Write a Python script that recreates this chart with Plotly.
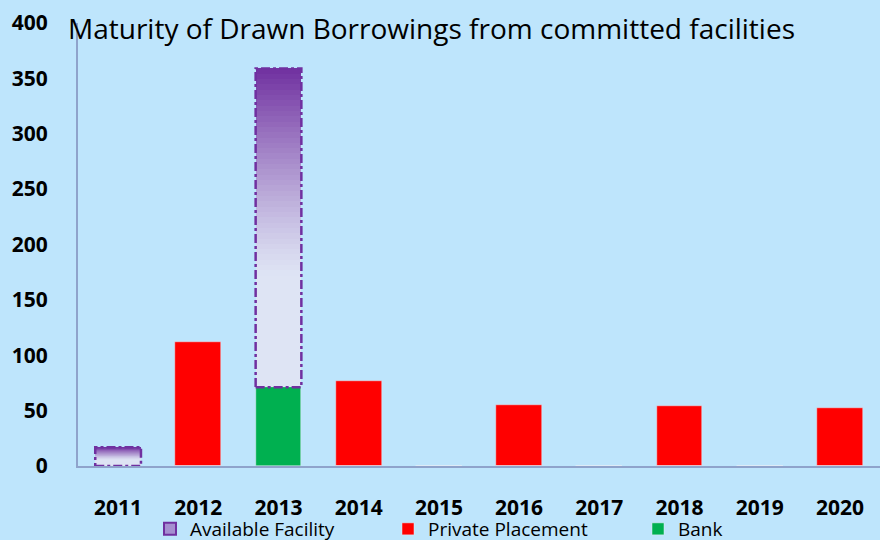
import plotly.graph_objects as go

years = [2011, 2012, 2013, 2014, 2015, 2016, 2017, 2018, 2019, 2020]
private_placement = [0, 112, 0, 77, 0, 55, 0, 54, 0, 52]
bank = [0, 0, 71, 0, 0, 0, 0, 0, 0, 0]
available = [17, 0, 288, 0, 0, 0, 0, 0, 0, 0]
y_ticks = [0, 50, 100, 150, 200, 250, 300, 350, 400]

BG = "#bee5fc"
PURPLE = "#7030a0"
LIGHT = (222, 228, 244)
DARK = (112, 48, 160)
BAR_W = 0.57
N_SLICES = 60
FONT = "Open Sans"

fig = go.Figure()

fig.add_trace(go.Bar(x=years, y=private_placement, width=BAR_W, marker_color="#ff0000",
                     name="Private Placement", showlegend=False))
fig.add_trace(go.Bar(x=years, y=bank, width=BAR_W, marker_color="#00b050",
                     name="Bank", showlegend=False))

gx, gy, gb, gc = [], [], [], []
for yr, b, a in zip(years, bank, available):
    if a <= 0:
        continue
    h = a / N_SLICES
    for k in range(N_SLICES):
        f = (k + 0.5) / N_SLICES
        t = min(max((f - 0.35) / 0.65, 0), 1) ** 1.2
        c = tuple(round(LIGHT[i] + (DARK[i] - LIGHT[i]) * t) for i in range(3))
        gx.append(yr)
        gy.append(h * 1.02)
        gb.append(b + k * h)
        gc.append("rgb(%d,%d,%d)" % c)
fig.add_trace(go.Bar(x=gx, y=gy, base=gb, width=BAR_W, marker=dict(color=gc, line_width=0),
                     showlegend=False, hoverinfo="skip"))

for yr, b, a in zip(years, bank, available):
    if a <= 0:
        continue
    x0, x1 = yr - BAR_W / 2, yr + BAR_W / 2
    fig.add_trace(go.Scatter(x=[x0, x1, x1, x0, x0], y=[b, b, b + a, b + a, b], mode="lines",
                             line=dict(color=PURPLE, width=2.5, dash="dashdot"),
                             showlegend=False, hoverinfo="skip"))

fig.add_trace(go.Bar(x=[None], y=[None], name="Available Facility", legend="legend",
                     marker=dict(color="#a58fd0", line=dict(color=PURPLE, width=2))))
fig.add_trace(go.Bar(x=[None], y=[None], name="Private Placement", legend="legend2",
                     marker_color="#ff0000"))
fig.add_trace(go.Bar(x=[None], y=[None], name="Bank", legend="legend3",
                     marker_color="#00b050"))


def leg(xpx):
    return dict(orientation="h", xref="container", yref="container",
                x=xpx / 880, xanchor="left", y=(540 - 529) / 540, yanchor="middle",
                font=dict(size=19, family=FONT, color="#000000"), itemwidth=30,
                bgcolor="rgba(0,0,0,0)")


fig.update_layout(
    width=880, height=540,
    margin=dict(l=78, r=0, t=23, b=74, autoexpand=False),
    paper_bgcolor=BG, plot_bgcolor=BG,
    barmode="overlay",
    bargap=0,
    font=dict(family=FONT, color="#000000"),
    legend=leg(150), legend2=leg(388), legend3=leg(638),
    xaxis=dict(range=[2010.5, 2020.5], tickvals=years, ticktext=[str(y) for y in years],
               showgrid=False, zeroline=False, showline=True, linecolor="#8fa3cb", linewidth=2,
               ticks="", ticklabelstandoff=22,
               tickfont=dict(size=21, family=FONT, weight="bold")),
    yaxis=dict(range=[0, 400], tickvals=y_ticks, showgrid=False, zeroline=False,
               showline=True, linecolor="#8fa3cb", linewidth=2, ticks="",
               ticklabelstandoff=24, tickfont=dict(size=21, family=FONT, weight="bold")),
    annotations=[dict(text="Maturity of Drawn Borrowings from committed facilities",
                      xref="paper", yref="paper", x=-0.015, y=1.035, xanchor="left",
                      yanchor="top", showarrow=False,
                      font=dict(size=28, family=FONT, color="#000000"))],
)

fig.write_html("out.html")
